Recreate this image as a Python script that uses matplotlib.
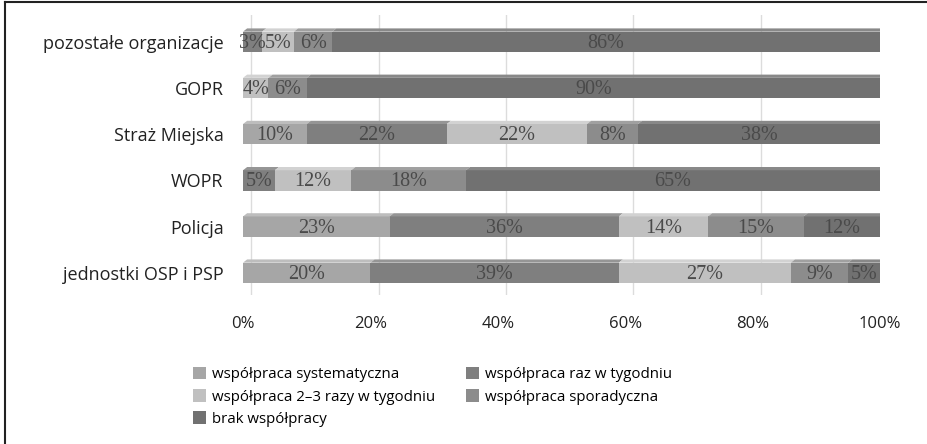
import matplotlib
matplotlib.use("Agg")
import matplotlib.pyplot as plt
from matplotlib.patches import Polygon, Patch
from matplotlib.lines import Line2D
import numpy as np

categories = ["jednostki OSP i PSP", "Policja", "WOPR", "Straż Miejska", "GOPR", "pozostałe organizacje"]
series_names = ["współpraca systematyczna", "współpraca raz w tygodniu",
                "współpraca 2–3 razy w tygodniu", "współpraca sporadyczna", "brak współpracy"]
systematyczna = [20, 23, 0, 10, 0, 0]
raz_w_tygodniu = [39, 36, 5, 22, 0, 3]
dwa_trzy_razy = [27, 14, 12, 22, 4, 5]
sporadyczna = [9, 15, 18, 8, 6, 6]
brak = [5, 12, 65, 38, 90, 86]
series = [systematyczna, raz_w_tygodniu, dwa_trzy_razy, sporadyczna, brak]
colors = ["#a6a6a6", "#7f7f7f", "#c0c0c0", "#8c8c8c", "#717171"]
top_colors = ["#bdbdbd", "#959595", "#d2d2d2", "#a0a0a0", "#888888"]
xticks = [0, 20, 40, 60, 80, 100]
xticklabels = ["0%", "20%", "40%", "60%", "80%", "100%"]

W, H = 928, 444
fig = plt.figure(figsize=(W / 100, H / 100), dpi=100)
ax = fig.add_axes([243 / W, 1 - 295 / H, (880 - 243) / W, (295 - 15) / H])
ax.set_xlim(0, 100)
ax.set_ylim(-0.48, 5.58)

ypos = np.arange(len(categories))
bh = 0.44
depth_x, depth_y = 1.3, 0.07

# gridlines on the back wall
for t in xticks:
    ax.plot([t + depth_x, t + depth_x], [-0.45, 5.58], color="#dcdcdc", lw=1.0, zorder=0)

left = np.zeros(len(categories))
for vals, c, tc in zip(series, colors, top_colors):
    vals = np.array(vals, dtype=float)
    ax.barh(ypos, vals, left=left, height=bh, color=c, edgecolor="none", zorder=2)
    for y, l, v in zip(ypos, left, vals):
        if v <= 0:
            continue
        top = y + bh / 2
        poly = Polygon([[l, top], [l + v, top], [l + v + depth_x * 0.5, top + depth_y],
                        [l + depth_x * 0.5, top + depth_y]], closed=True,
                       facecolor=tc, edgecolor="none", zorder=2)
        ax.add_patch(poly)
        ax.text(l + v / 2, y - 0.03, f"{int(v)}%", ha="center", va="center",
                fontsize=14.5, family="Liberation Serif", color="#4a4a4a", zorder=3)
    left = left + vals

# right end cap of each bar
for y in ypos:
    top = y + bh / 2
    bot = y - bh / 2
    cap = Polygon([[100, bot], [100, top], [100 + depth_x * 0.5, top + depth_y],
                   [100 + depth_x * 0.5, bot + depth_y]], closed=True,
                  facecolor="#5e5e5e", edgecolor="none", zorder=2)
    ax.add_patch(cap)

ax.set_yticks(ypos)
ax.set_yticklabels(categories, family="Open Sans", fontsize=13, color="#222222")
ax.set_xticks(xticks)
ax.set_xticklabels(xticklabels, family="Open Sans", fontsize=12, color="#222222")
ax.tick_params(axis="both", length=0)
ax.tick_params(axis="y", pad=14)
ax.tick_params(axis="x", pad=15)
for s in ax.spines.values():
    s.set_visible(False)

handles = [Patch(facecolor=colors[i], edgecolor="none") for i in [0, 2, 4, 1, 3]]
labels = [series_names[i] for i in [0, 2, 4, 1, 3]]
fig.legend(handles, labels, loc="upper left", bbox_to_anchor=(193 / W, 1 - 367 / H),
           ncol=2, frameon=False, prop={"family": "Open Sans", "size": 10.8},
           handlelength=0.85, handleheight=0.9, handletextpad=0.4,
           columnspacing=2.1, labelspacing=0.45, borderaxespad=0, borderpad=0)

# outer frame (cut at right and bottom)
fig.add_artist(Line2D([5 / W, 5 / W], [0, 1 - 2 / H], color="#222222", lw=1.5,
                      transform=fig.transFigure))
fig.add_artist(Line2D([5 / W, 1], [1 - 2 / H, 1 - 2 / H], color="#222222", lw=1.5,
                      transform=fig.transFigure))

fig.savefig("out.png", dpi=100)
